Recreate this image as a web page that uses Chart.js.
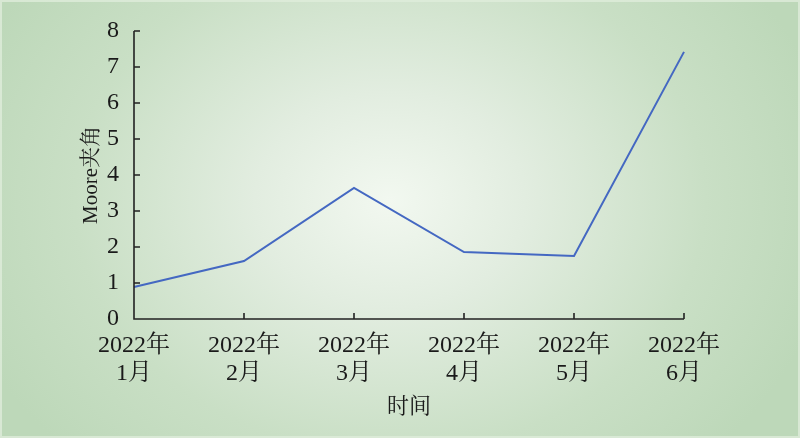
<!DOCTYPE html>
<html>
<head>
<meta charset="utf-8">
<script src="https://cdn.jsdelivr.net/npm/chart.js@4/dist/chart.umd.min.js"></script>
<style>
html,body{margin:0;padding:0;background:#bdd8ba;}
#wrap{width:800px;height:438px;position:relative;}
</style>
</head>
<body>
<div id="wrap"><canvas id="c" width="800" height="438"></canvas></div>
<script>
const categories = [['2022年','1月'],['2022年','2月'],['2022年','3月'],['2022年','4月'],['2022年','5月'],['2022年','6月']];
const mooreAngle = [0.89, 1.61, 3.64, 1.86, 1.75, 7.42];
const yTicks = [0,1,2,3,4,5,6,7,8];
const xTitle = '时间';
const yTitle = 'Moore夹角';

const FONT = "'Liberation Serif','Noto Serif CJK SC','Noto Sans CJK SC',serif";

const bgPlugin = {
  id: 'bg',
  beforeDraw(chart) {
    const ctx = chart.ctx;
    const w = chart.width, h = chart.height;
    ctx.save();
    ctx.translate(390, 200);
    ctx.scale(1.25, 1);
    const g = ctx.createRadialGradient(0, 0, 0, 0, 0, 360);
    g.addColorStop(0, '#f2f8f0');
    g.addColorStop(0.3, '#e2ede0');
    g.addColorStop(0.7, '#c9dfc5');
    g.addColorStop(1, '#bdd8b9');
    ctx.fillStyle = g;
    ctx.fillRect(-400, -300, 800, 600);
    ctx.restore();
    ctx.save();
    ctx.strokeStyle = 'rgba(222,236,219,0.8)';
    ctx.lineWidth = 2;
    ctx.strokeRect(1, 1, w - 2, h - 2);
    ctx.restore();
  }
};

const axisPlugin = {
  id: 'axes',
  afterDatasetsDraw(chart) {
    const ctx = chart.ctx;
    const xs = chart.scales.x, ys = chart.scales.y;
    const x0 = xs.getPixelForValue(0);
    const xEnd = xs.getPixelForValue(categories.length - 1);
    const yb = ys.getPixelForValue(0);
    const yt = ys.getPixelForValue(8);
    ctx.save();
    ctx.strokeStyle = '#222';
    ctx.lineWidth = 1.6;
    ctx.beginPath();
    ctx.moveTo(x0, yt);
    ctx.lineTo(x0, yb);
    ctx.lineTo(xEnd, yb);
    yTicks.forEach(v => {
      const p = ys.getPixelForValue(v);
      ctx.moveTo(x0, p);
      ctx.lineTo(x0 + 6, p);
    });
    categories.forEach((c, i) => {
      const p = xs.getPixelForValue(i);
      ctx.moveTo(p, yb);
      ctx.lineTo(p, yb - 6);
    });
    ctx.stroke();
    ctx.restore();
  }
};

new Chart(document.getElementById('c'), {
  type: 'line',
  data: {
    labels: categories,
    datasets: [{
      data: mooreAngle,
      borderColor: '#4468c2',
      borderWidth: 2,
      pointRadius: 0,
      tension: 0,
      fill: false
    }]
  },
  options: {
    responsive: false,
    animation: false,
    events: [],
    layout: { padding: { left: 0, right: 116, top: 31, bottom: 0 } },
    plugins: { legend: { display: false }, tooltip: { enabled: false } },
    scales: {
      x: {
        type: 'category',
        offset: false,
        grid: { display: false },
        border: { display: false },
        ticks: {
          color: '#1a1a1a',
          font: { family: FONT, size: 24, lineHeight: 1.2 },
          padding: 4,
          maxRotation: 0,
          autoSkip: false
        },
        title: {
          display: true,
          text: xTitle,
          color: '#1a1a1a',
          font: { family: FONT, size: 22, lineHeight: 1.2 },
          padding: { top: 0, bottom: 18 }
        },
        afterFit(s) { s.height = 119; }
      },
      y: {
        min: 0,
        max: 8,
        grid: { display: false },
        border: { display: false },
        afterBuildTicks(s) { s.ticks = yTicks.map(v => ({ value: v })); },
        ticks: {
          color: '#1a1a1a',
          font: { family: FONT, size: 24 },
          padding: 7
        },
        title: {
          display: true,
          text: yTitle,
          color: '#1a1a1a',
          font: { family: FONT, size: 21, lineHeight: 1.2 },
          padding: { top: 79, bottom: 0 }
        },
        afterFit(s) { s.width = 134; }
      }
    }
  },
  plugins: [bgPlugin, axisPlugin]
});
</script>
</body>
</html>
